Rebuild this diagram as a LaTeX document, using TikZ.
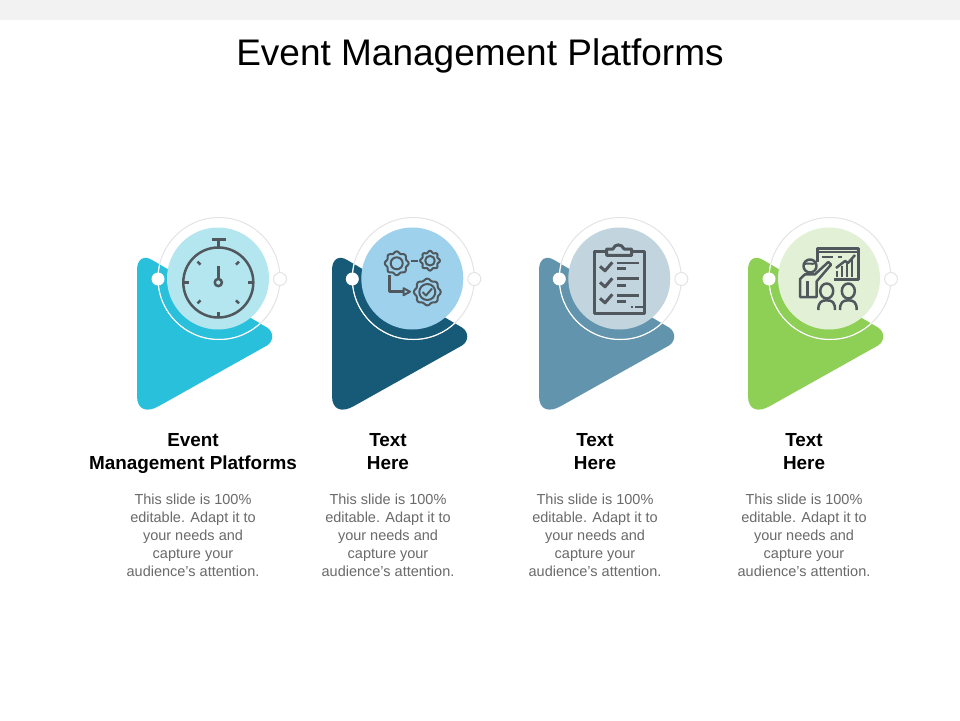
\documentclass[tikz,border=0pt]{standalone}
\usepackage{fontspec}
\setmainfont{Liberation Sans}
\definecolor{icon}{HTML}{50585E}
\definecolor{bandc}{HTML}{F2F2F2}
\definecolor{ringc}{HTML}{E4E4E4}
\definecolor{bodyc}{HTML}{6A6A6A}
\definecolor{triA}{HTML}{29C0DC}\definecolor{cirA}{HTML}{B4E6EF}
\definecolor{triB}{HTML}{165A78}\definecolor{cirB}{HTML}{9DD1EC}
\definecolor{triC}{HTML}{6295AD}\definecolor{cirC}{HTML}{C2D4DE}
\definecolor{triD}{HTML}{8ECF55}\definecolor{cirD}{HTML}{E2F1D5}
\tikzset{
  iconline/.style={draw=icon,line width=2.5pt,line cap=butt,line join=round},
  iconthin/.style={draw=icon,line width=2pt,line join=round},
  titletext/.style={inner sep=0pt,anchor=base,font=\fontsize{37}{37}\selectfont,text=black},
  headtext/.style={inner sep=0pt,anchor=north,align=center,font=\fontsize{18.9}{23}\selectfont\bfseries,text=black},
  bodytext/.style={inner sep=0pt,anchor=north,align=center,font=\fontsize{14.5}{17.9}\selectfont,text=bodyc},
}
\newcommand{\panelbase}[4]{%
  \begin{scope}[shift={(#1,0)}]
    \fill[#2] (137,270) .. controls (137,259) and (144,254.5) .. (153,260.5) -- (267,327.5) .. controls (274,332) and (274,341) .. (267,345.5) -- (159,406) .. controls (147,413) and (137,410) .. (137,396) -- cycle;
    \begin{scope}[shift={(#4,0)}]
    \draw[ringc,line width=1pt] (219,278.5) circle[radius=61];
    \begin{scope}[shift={(-#4,0)}]
      \clip (137,270) .. controls (137,259) and (144,254.5) .. (153,260.5) -- (267,327.5) .. controls (274,332) and (274,341) .. (267,345.5) -- (159,406) .. controls (147,413) and (137,410) .. (137,396) -- cycle;
      \draw[white,line width=1pt,shift={(#4,0)}] (219,278.5) circle[radius=61];
    \end{scope}
    \fill[#3] (218,278.5) circle[radius=51];
    \fill[white] (158,279) circle[radius=6.5];
    \draw[ringc,fill=white,line width=1pt] (280,279) circle[radius=6.5];
    \end{scope}
  \end{scope}}
\newcommand{\gearicon}[4]{%
  \draw[iconthin] plot[smooth cycle,domain=0:352.5,samples=48] ({#1+(#3+1*cos(8*\x))*cos(\x)},{#2+(#3+1*cos(8*\x))*sin(\x)});
  \draw[iconthin] (#1,#2) circle[radius=#4];}
\begin{document}
\begin{tikzpicture}[x=1pt,y=-1pt]
\useasboundingbox (0,0) rectangle (960,720);
\fill[white] (0,0) rectangle (960,720);
\fill[bandc] (0,0) rectangle (960,20);
\node[titletext] (title) at (480,65.5) {Event Management Platforms};

\panelbase{0}{triA}{cirA}{0}
\panelbase{195}{triB}{cirB}{-0.7}
\panelbase{402}{triC}{cirC}{-0.7}
\panelbase{611}{triD}{cirD}{0}

% stopwatch
\draw[iconline] (218.3,282.5) circle[radius=35];
\draw[iconline] (218.3,282.5) circle[radius=3.6];
\draw[iconline] (218.3,278.9) -- (218.3,265.5);
\draw[iconline] (211.5,239.7) -- (225.5,239.7);
\draw[iconline] (218.3,239.7) -- (218.3,247.5);
\draw[iconline] (218.3,312) -- (218.3,317.5);
\draw[iconline] (183.3,282.5) -- (188.5,282.5);
\draw[iconline] (248,282.5) -- (253.3,282.5);
\draw[iconline] (197.5,261.7) -- (200.5,264.7);
\draw[iconline] (239,261.7) -- (236,264.7);
\draw[iconline] (197.5,303.3) -- (200.5,300.3);
\draw[iconline] (239,303.3) -- (236,300.3);

% gears
\gearicon{396.7}{263.3}{11}{6}
\gearicon{430}{260.7}{9}{4.8}
\gearicon{427.3}{292}{12.5}{8}
\draw[iconline] (411,261) -- (418.3,261);
\draw[iconline] (389.3,275) -- (389.3,291.7) -- (403.3,291.7);
\draw[iconthin] (403.5,288.2) -- (410,291.7) -- (403.5,295.2) -- cycle;
\draw[iconthin] (422.5,292) -- (426,295.5) -- (432,288.5);

% clipboard
\draw[iconline,line width=3pt] (606.7,251) -- (594,251) -- (594,313) -- (644.3,313) -- (644.3,251) -- (631.7,251);
\draw[iconline,line width=3pt] (606.7,255.3) -- (606.7,249) -- (613,249) .. controls (614.5,243.5) and (622,243.5) .. (624,249) -- (631.7,249) -- (631.7,255.3) -- cycle;
\foreach \dy in {0,16,32}{
  \draw[iconline,line width=3pt] (600,266.3+\dy) -- (605,270.8+\dy) -- (612.3,262.3+\dy);
}
\draw[iconline] (616.7,263) -- (639.3,263);
\draw[iconline] (616.7,268.7) -- (625.7,268.7);
\draw[iconline] (616.7,278.7) -- (639.3,278.7);
\draw[iconline] (616.7,285.3) -- (625.7,285.3);
\draw[iconline] (616.7,295.3) -- (639.3,295.3);
\draw[iconline] (616.7,301.3) -- (625.7,301.3);
\draw[iconline] (631,307) -- (633,307);
\draw[iconline] (635,307) -- (644,307);

% presenter
\draw[iconline] (817.7,262) -- (817.7,248.7) -- (858.7,248.7) -- (858.7,279.7) -- (834.3,279.7);
\draw[iconline] (817.7,252) -- (858.7,252);
\draw[iconline] (821.7,257) -- (833.3,257);
\draw[iconline] (838,257) -- (842,257);
\draw[iconline] (837,277) -- (837,271);
\draw[iconline] (842,277) -- (842,266);
\draw[iconline] (847,277) -- (847,261.5);
\draw[iconline] (852,277) -- (852,258);
\draw[iconline] (836,268) -- (845,261) -- (848,263) -- (855,255);
\draw[iconline] (810,266) circle[radius=6.5];
\draw[iconthin] (804.5,264) .. controls (808,262.5) and (812,265) .. (815.7,263);
\draw[iconline] (800,297) -- (800,279) -- (805,274.3) -- (815,274.3) -- (828.3,262) -- (831,264.7) -- (816.7,281.3) -- (816.7,297) -- cycle;
\draw[iconline] (807.7,281) -- (807.7,297);
\draw[iconline] (826.7,291) ellipse[x radius=6.5,y radius=7.5];
\draw[iconline] (848.3,291) ellipse[x radius=6.5,y radius=7.5];
\draw[iconline] (818.3,310) .. controls (818.3,302.5) and (821,300.3) .. (826.7,300.3) .. controls (832.5,300.3) and (835,302.5) .. (835,310);
\draw[iconline] (840,310) .. controls (840,302.5) and (842.5,300.3) .. (848.3,300.3) .. controls (854,300.3) and (856.7,302.5) .. (856.7,310);

% text
\node[headtext] (h1) at (193,433.5) {Event\\Management Platforms};
\node[headtext] (h2) at (388,433.5) {Text\\Here};
\node[headtext] (h3) at (595,433.5) {Text\\Here};
\node[headtext] (h4) at (804,433.5) {Text\\Here};
\node[bodytext] (b1) at (193,494) {This slide is 100\%\\editable. Adapt it to\\your needs and\\capture your\\audience's attention.};
\node[bodytext] (b2) at (388,494) {This slide is 100\%\\editable. Adapt it to\\your needs and\\capture your\\audience's attention.};
\node[bodytext] (b3) at (595,494) {This slide is 100\%\\editable. Adapt it to\\your needs and\\capture your\\audience's attention.};
\node[bodytext] (b4) at (804,494) {This slide is 100\%\\editable. Adapt it to\\your needs and\\capture your\\audience's attention.};
\end{tikzpicture}
\end{document}
